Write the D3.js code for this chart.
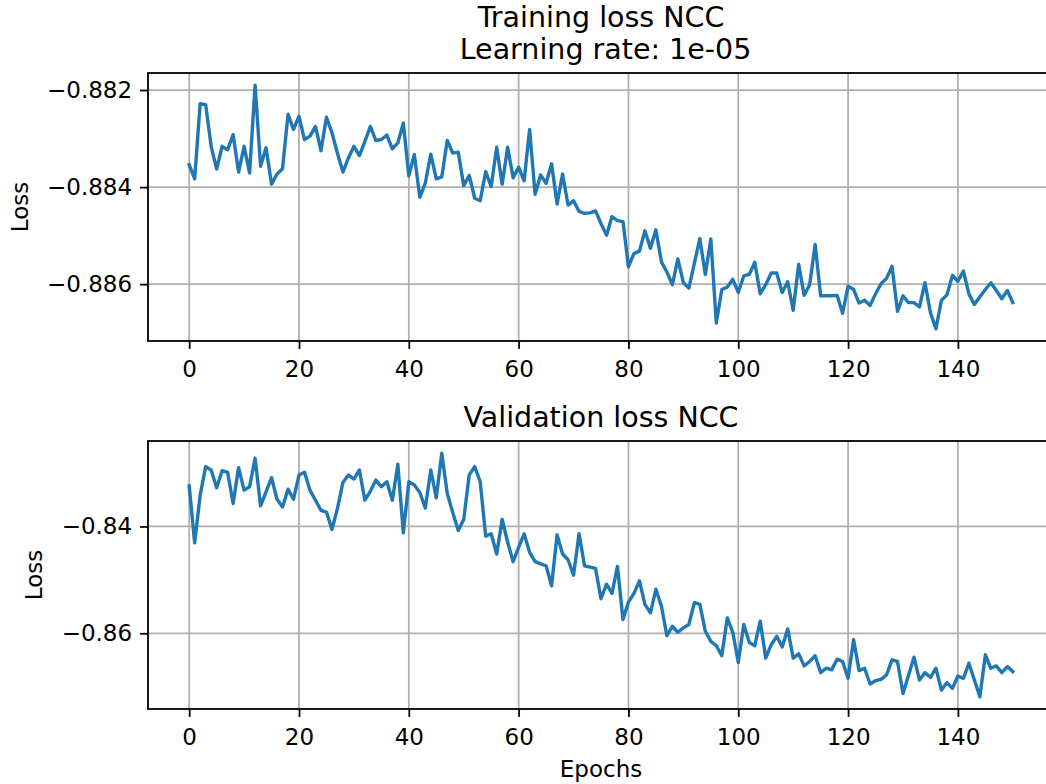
<!DOCTYPE html>
<html>
<head>
<meta charset="utf-8">
<script src="https://cdn.jsdelivr.net/npm/d3@7"></script>
<style>
  body { margin: 0; background: #fff; }
  svg { display: block; font-family: "DejaVu Sans", sans-serif; }
  .title { white-space: pre; }
</style>
</head>
<body>
<svg width="1046" height="784"></svg>
<script>
// loss per epoch
const trainLoss = [
  -0.88354, -0.88383, -0.88228, -0.8823, -0.88316, -0.88363, -0.88316, -0.88323, -0.88292, -0.88369,
  -0.88316, -0.88371, -0.8819, -0.88357, -0.88319, -0.88394, -0.88373, -0.88362, -0.8825, -0.88281,
  -0.88254, -0.88302, -0.88295, -0.88275, -0.88325, -0.88256, -0.88288, -0.8833, -0.88369, -0.8834,
  -0.88316, -0.88335, -0.88306, -0.88275, -0.88304, -0.88302, -0.88293, -0.88321, -0.88309, -0.88268,
  -0.88377, -0.88333, -0.88421, -0.88392, -0.88332, -0.88383, -0.88379, -0.88304, -0.8833, -0.88328,
  -0.88397, -0.88376, -0.88423, -0.88428, -0.88368, -0.88399, -0.88318, -0.88394, -0.88318, -0.88381,
  -0.88359, -0.88387, -0.88281, -0.88415, -0.88375, -0.88392, -0.88352, -0.88435, -0.88373, -0.88437,
  -0.88428, -0.8845, -0.88454, -0.88453, -0.88449, -0.88475, -0.88499, -0.88461, -0.88469, -0.88471,
  -0.88564, -0.88537, -0.88532, -0.8849, -0.88526, -0.88488, -0.88554, -0.88575, -0.88601, -0.88548,
  -0.88597, -0.88608, -0.88557, -0.88506, -0.8858, -0.88507, -0.8868, -0.88611, -0.88606, -0.8859,
  -0.88617, -0.88583, -0.8858, -0.88555, -0.8862, -0.88601, -0.88577, -0.88577, -0.88617, -0.88595,
  -0.88654, -0.88559, -0.88623, -0.88601, -0.88518, -0.88624, -0.88624, -0.88624, -0.88623, -0.8866,
  -0.88604, -0.88611, -0.88639, -0.88633, -0.88644, -0.8862, -0.88599, -0.88588, -0.88563, -0.88656,
  -0.88624, -0.88638, -0.88638, -0.88647, -0.88597, -0.88659, -0.88692, -0.88633, -0.88622, -0.88582,
  -0.88594, -0.88573, -0.8862, -0.88642, -0.88626, -0.88611, -0.88597, -0.88613, -0.8863, -0.88613,
  -0.88638
];

const valLoss = [
  -0.83239, -0.84308, -0.83415, -0.82881, -0.82943, -0.83277, -0.82956, -0.82987, -0.83572, -0.82899,
  -0.83321, -0.83258, -0.82723, -0.83616, -0.83352, -0.83088, -0.83491, -0.83635, -0.83302, -0.83491,
  -0.83038, -0.82987, -0.83321, -0.83509, -0.83698, -0.8373, -0.84057, -0.83667, -0.83176, -0.83038,
  -0.83113, -0.82943, -0.83509, -0.8334, -0.83132, -0.83258, -0.83164, -0.83509, -0.82837, -0.8412,
  -0.83164, -0.83226, -0.83365, -0.83654, -0.82943, -0.83465, -0.82629, -0.83384, -0.83742, -0.84075,
  -0.83868, -0.83038, -0.82881, -0.83164, -0.84182, -0.84138, -0.84516, -0.83868, -0.84296, -0.8466,
  -0.8439, -0.84138, -0.84484, -0.8466, -0.847, -0.84736, -0.85113, -0.84157, -0.84516, -0.84623,
  -0.84912, -0.84138, -0.84736, -0.84761, -0.84786, -0.85352, -0.85082, -0.85252, -0.84748, -0.85742,
  -0.85415, -0.85252, -0.85019, -0.85459, -0.85616, -0.85176, -0.8549, -0.86044, -0.85868, -0.85981,
  -0.85899, -0.85836, -0.85428, -0.85459, -0.85962, -0.86151, -0.86233, -0.86421, -0.85711, -0.85981,
  -0.86547, -0.85836, -0.8617, -0.86233, -0.85774, -0.86465, -0.86214, -0.86057, -0.86258, -0.85918,
  -0.86465, -0.86384, -0.8661, -0.86528, -0.86421, -0.86736, -0.86654, -0.86685, -0.86484, -0.86528,
  -0.86843, -0.86119, -0.86698, -0.86654, -0.8695, -0.86887, -0.86862, -0.8678, -0.86497, -0.86528,
  -0.87126, -0.86792, -0.86446, -0.86874, -0.86736, -0.86824, -0.86654, -0.87063, -0.86924, -0.87031,
  -0.86799, -0.86843, -0.8656, -0.86874, -0.87189, -0.86402, -0.86654, -0.8661, -0.86736, -0.86623,
  -0.86717
];

const xTicks = [0, 20, 40, 60, 80, 100, 120, 140];
const trainYTicks = [-0.886, -0.884, -0.882];
const valYTicks = [-0.86, -0.84];

const svg = d3.select("svg");
const left = 148, right = 1054; // right spine falls just outside the picture
const fs = 23, titleFs = 28.5, lineGap = 32.6;

// matplotlib-like 5% margins
function padded(ext) {
  const p = (ext[1] - ext[0]) * 0.05;
  return [ext[0] - p, ext[1] + p];
}

function panel(values, top, bottom, yTicks, yFmt, titleLines, xLabel) {
  const g = svg.append("g");
  const epochs = d3.range(values.length);
  const x = d3.scaleLinear().domain(padded(d3.extent(epochs))).range([left, right]);
  const y = d3.scaleLinear().domain(padded(d3.extent(values))).range([bottom, top]);

  // grid
  g.append("g").selectAll("line").data(xTicks).join("line")
    .attr("x1", d => x(d)).attr("x2", d => x(d))
    .attr("y1", top).attr("y2", bottom)
    .attr("stroke", "#b0b0b0").attr("stroke-width", 1.8);
  g.append("g").selectAll("line").data(yTicks).join("line")
    .attr("x1", left).attr("x2", right)
    .attr("y1", d => y(d)).attr("y2", d => y(d))
    .attr("stroke", "#b0b0b0").attr("stroke-width", 1.8);

  // the loss curve
  g.append("path")
    .datum(values)
    .attr("fill", "none")
    .attr("stroke", "#1f77b4")
    .attr("stroke-width", 3.4)
    .attr("stroke-linejoin", "round")
    .attr("stroke-linecap", "square")
    .attr("d", d3.line().x((d, i) => x(epochs[i])).y(d => y(d)));

  // spines
  g.append("rect")
    .attr("x", left).attr("y", top)
    .attr("width", right - left).attr("height", bottom - top)
    .attr("fill", "none").attr("stroke", "#000").attr("stroke-width", 1.8);

  const xAxis = g.append("g")
    .attr("transform", `translate(0,${bottom})`)
    .call(d3.axisBottom(x).tickValues(xTicks).tickSize(7.9).tickPadding(12).tickFormat(d3.format("d")));
  const yAxis = g.append("g")
    .attr("transform", `translate(${left},0)`)
    .call(d3.axisLeft(y).tickValues(yTicks).tickSize(7.9).tickPadding(8).tickFormat(d3.format(yFmt)));

  [xAxis, yAxis].forEach(a => {
    a.select(".domain").remove();
    a.selectAll(".tick line").attr("stroke", "#000").attr("stroke-width", 1.8);
    a.selectAll(".tick text")
      .attr("fill", "#000")
      .style("font-size", fs + "px")
      .style("font-family", "DejaVu Sans");
  });

  // y label, left of the tick labels
  const bb = yAxis.node().getBBox();
  const lx = left + bb.x - 14 - 0.236 * fs;
  g.append("text")
    .attr("transform", `translate(${lx},${(top + bottom) / 2}) rotate(-90)`)
    .attr("text-anchor", "middle")
    .style("font-size", fs + "px")
    .text("Loss");

  // title, baseline of the last line sits above the axes
  const cx = (left + right) / 2;
  titleLines.forEach((t, i) => {
    g.append("text")
      .attr("class", "title")
      .attr("x", cx)
      .attr("y", top - 13.6 - (titleLines.length - 1 - i) * lineGap)
      .attr("text-anchor", "middle")
      .style("font-size", titleFs + "px")
      .text(t);
  });

  if (xLabel) {
    g.append("text")
      .attr("x", cx)
      .attr("y", bottom + 68)
      .attr("text-anchor", "middle")
      .style("font-size", fs + "px")
      .text(xLabel);
  }
}

panel(trainLoss, 73, 341, trainYTicks, ".3f", ["Training loss NCC", " Learning rate: 1e-05"], null);
panel(valLoss, 441, 709, valYTicks, ".2f", ["Validation loss NCC"], "Epochs");
</script>
</body>
</html>
